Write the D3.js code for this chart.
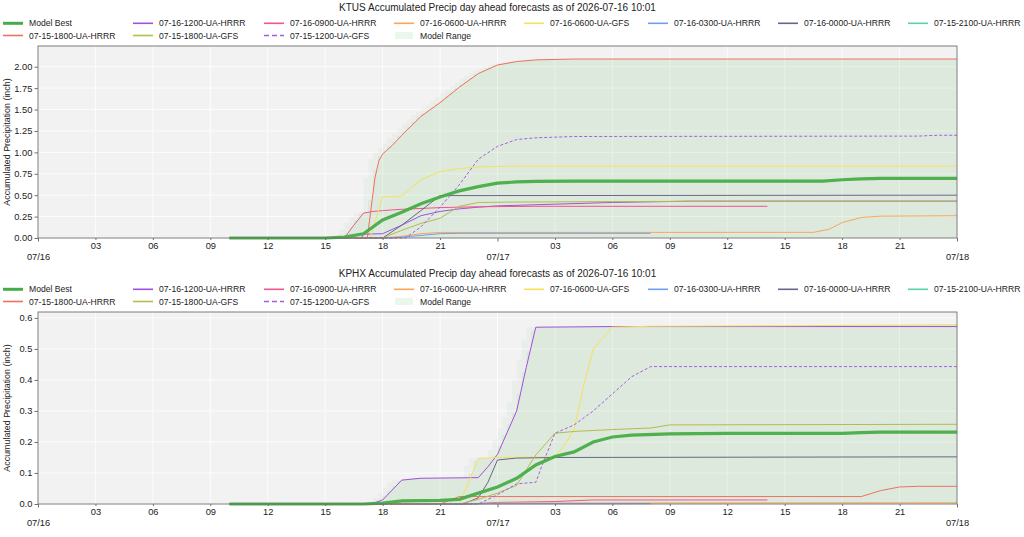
<!DOCTYPE html>
<html>
<head>
<meta charset="utf-8">
<script src="https://cdn.jsdelivr.net/npm/d3@7"></script>
<style>
  body { margin: 0; background: #fff; }
  text { font-family: "Liberation Sans", Arial, Helvetica, sans-serif; fill: #222; }
</style>
</head>
<body>
<div id="content"></div>
<script>
// hours after 2026-07-16 00:00, accumulated inches
const ktusBest = [[10,0],[15,0],[16,0.01],[17,0.05],[18,0.21],[19,0.30],[20,0.40],[21,0.48],[22,0.55],[23,0.60],[24,0.64],[25,0.655],[26,0.662],[28,0.665],[41,0.665],[42,0.68],[43,0.69],[44,0.697],[48,0.697]];
const ktusH1612 = [[12,0],[16.9,0],[17,0.045],[18,0.05],[19,0.15],[20,0.26],[21,0.31],[22,0.34],[23,0.36],[24,0.375],[27,0.395],[30,0.415],[34,0.43],[48,0.43]];
const ktusH1609 = [[10,0],[16,0],[16.5,0.15],[17,0.29],[17.5,0.31],[18,0.32],[19,0.335],[21,0.355],[23,0.365],[26,0.37],[38.1,0.37]];
const ktusH1606 = [[10,0],[18,0],[19,0.02],[20,0.05],[21,0.065],[40.5,0.066],[41.3,0.1],[42,0.18],[43,0.24],[44,0.255],[48,0.26]];
const ktusG1606 = [[10,0],[17.35,0],[18,0.48],[19,0.49],[20,0.68],[21,0.775],[22,0.81],[23,0.83],[25,0.84],[48,0.84]];
const ktusH1603 = [[10,0],[18.5,0],[20,0.03],[21,0.05],[22,0.055],[32,0.055]];
const ktusH1600 = [[10,0],[18,0],[19,0.15],[20,0.32],[21,0.495],[48,0.50]];
const ktusH1521 = [[10,0],[15,0]];
const ktusH1518 = [[10,0],[17.2,0],[17.4,0.35],[17.6,0.7],[17.8,0.9],[18,0.98],[18.5,1.08],[19,1.2],[20,1.42],[21,1.58],[22,1.76],[23,1.92],[24,2.02],[25,2.06],[26,2.08],[28,2.09],[48,2.09]];
const ktusG1518 = [[10,0],[18,0],[19,0.09],[20,0.17],[21,0.23],[21.5,0.30],[22,0.37],[23,0.415],[25,0.42],[30,0.425],[36,0.43],[48,0.43]];
const ktusG1512 = [[10,0],[19.2,0],[20,0.13],[21,0.36],[22,0.62],[23,0.92],[24,1.07],[25,1.15],[26,1.17],[28,1.185],[46,1.19],[47,1.2],[48,1.2]];

const kphxBest = [[10,0],[17,0],[18,0.003],[19,0.01],[21,0.012],[22,0.015],[23,0.035],[24,0.055],[25,0.083],[26,0.126],[27,0.153],[28,0.168],[29,0.20],[30,0.216],[31,0.222],[33,0.226],[36,0.228],[42,0.228],[43,0.23],[44,0.232],[48,0.232]];
const kphxH1612 = [[12,0],[17.4,0],[18,0.013],[19,0.077],[20,0.083],[23,0.085],[23.5,0.12],[24,0.16],[24.5,0.23],[25,0.30],[25.5,0.44],[26,0.57],[30,0.572],[48,0.572]];
const kphxH1609 = [[10,0],[22.5,0],[24,0.005],[27,0.008],[29,0.013],[38.1,0.013]];
const kphxH1606 = [[10,0],[23,0],[24,0.003],[48,0.004]];
const kphxG1606 = [[10,0],[22,0],[22.5,0.07],[23,0.147],[24,0.15],[27,0.152],[27.5,0.19],[28,0.24],[28.5,0.38],[29,0.50],[30,0.57],[32,0.573],[40,0.575],[48,0.578]];
const kphxH1603 = [[10,0],[32,0.001]];
const kphxH1600 = [[10,0],[22.2,0],[23,0.02],[23.5,0.07],[24,0.142],[25,0.148],[27,0.15],[48,0.152]];
const kphxH1521 = [[10,0],[15,0]];
const kphxH1518 = [[10,0],[21,0],[22,0.024],[43,0.024],[44,0.043],[45,0.055],[46,0.057],[48,0.057]];
const kphxG1518 = [[10,0],[22,0],[23,0.015],[24,0.035],[25,0.06],[25.5,0.11],[26,0.158],[27,0.228],[28,0.234],[30,0.24],[32,0.245],[33,0.255],[48,0.257]];
const kphxG1512 = [[10,0],[23,0],[24,0.03],[25,0.065],[26,0.07],[26.3,0.12],[27,0.228],[28,0.255],[29,0.30],[30,0.355],[31,0.41],[32,0.443],[48,0.443]];

const runNames = ['07-16-1200-UA-HRRR','07-16-0900-UA-HRRR','07-16-0600-UA-HRRR','07-16-0600-UA-GFS',
  '07-16-0300-UA-HRRR','07-16-0000-UA-HRRR','07-15-2100-UA-HRRR','07-15-1800-UA-HRRR','07-15-1800-UA-GFS','07-15-1200-UA-GFS'];
const ktusRuns = [ktusH1612, ktusH1609, ktusH1606, ktusG1606, ktusH1603, ktusH1600, ktusH1521, ktusH1518, ktusG1518, ktusG1512];
const kphxRuns = [kphxH1612, kphxH1609, kphxH1606, kphxG1606, kphxH1603, kphxH1600, kphxH1521, kphxH1518, kphxG1518, kphxG1512];
const ktusYTicks = [0, 0.25, 0.5, 0.75, 1, 1.25, 1.5, 1.75, 2];
const kphxYTicks = [0, 0.1, 0.2, 0.3, 0.4, 0.5, 0.6];
const issued = '2026-07-16 10:01';

const runColors = ['#a150dc','#f2558e','#f9a65a','#f5e15c','#6f9ef6','#66668a','#5ccfad','#f0705f','#b3bc4c','#a65ee0'];
const bestColor = '#46ad46';
const t0 = new Date(2026, 6, 16, 0, 0);
const toDate = h => new Date(t0.getTime() + h * 3600e3);

const W = 1024, H = 537;
const svg = d3.select('#content').append('svg').attr('width', W).attr('height', H);
svg.append('rect').attr('width', W).attr('height', H).attr('fill', '#fff');

const margin = { left: 38, right: 957 };
const legendCols = [3, 133, 264, 394, 524, 648, 778, 908];

function drawPanel(station, best, runs, yTicks, yMax, yFmt, offY) {
  const top = 46 + offY, bottom = 238 + offY;
  const g = svg.append('g');

  g.append('text').attr('x', (margin.left + margin.right) / 2).attr('y', offY + 10.6)
    .attr('text-anchor', 'middle').attr('font-size', 10)
    .text(`${station} Accumulated Precip day ahead forecasts as of ${issued}`);

  // legend
  const items = [{ name: 'Model Best', color: bestColor, w: 3 }]
    .concat(runNames.slice(0, 7).map((n, i) => ({ name: n, color: runColors[i], w: 1.6 })))
    .concat(runNames.slice(7).map((n, i) => ({ name: n, color: runColors[7 + i], w: 1.6, dash: i === 2 })))
    .concat([{ name: 'Model Range', patch: true }]);
  items.forEach((it, i) => {
    const col = i < 8 ? i : i - 8;
    const ly = offY + (i < 8 ? 23.3 : 35.5);
    const lx = legendCols[col];
    if (it.patch) {
      g.append('rect').attr('x', lx + 1).attr('y', ly - 3.5).attr('width', 18).attr('height', 7)
        .attr('fill', bestColor).attr('fill-opacity', 0.1);
    } else {
      g.append('line').attr('x1', lx).attr('x2', lx + 20).attr('y1', ly).attr('y2', ly)
        .attr('stroke', it.color).attr('stroke-width', it.w)
        .attr('stroke-dasharray', it.dash ? '5,3' : null);
    }
    g.append('text').attr('x', lx + 26).attr('y', ly + 3).attr('font-size', 8.6).text(it.name);
  });

  const x = d3.scaleTime().domain([toDate(0), toDate(48)]).range([margin.left, margin.right]);
  const y = d3.scaleLinear().domain([0, yMax]).range([bottom, top]);

  g.append('rect').attr('x', margin.left).attr('y', top)
    .attr('width', margin.right - margin.left).attr('height', bottom - top).attr('fill', '#f2f2f2');

  const hourTicks = d3.range(3, 48, 3).filter(h => h !== 24).map(toDate);
  const dayTicks = [0, 24, 48].map(toDate);

  // grid
  const grid = g.append('g').attr('stroke', '#fff').attr('stroke-width', 0.8);
  d3.range(0, 49, 3).forEach(h => grid.append('line')
    .attr('x1', x(toDate(h))).attr('x2', x(toDate(h))).attr('y1', top).attr('y2', bottom));
  yTicks.forEach(v => grid.append('line')
    .attr('x1', margin.left).attr('x2', margin.right).attr('y1', y(v)).attr('y2', y(v)));

  // model range envelope, taken from the runs' own curves
  const curves = runs.concat([best]);
  const valueAt = (pts, h) => {
    if (h < pts[0][0] || h > pts[pts.length - 1][0]) return null;
    return d3.scaleLinear().domain(pts.map(p => p[0])).range(pts.map(p => p[1]))(h);
  };
  const envAt = h => d3.max(curves, c => valueAt(c, Math.min(h, 48))) || 0;
  const steps = d3.range(10, 48.01, 0.25);
  const area = d3.area().curve(d3.curveStepAfter)
    .x(d => x(toDate(d[0]))).y0(y(0)).y1(d => y(d[1]));
  [[0.6, 0.045], [0.2, 0.075]].forEach(([lead, op]) => {
    g.append('path').datum(steps.map(h => [h, envAt(h + lead)]))
      .attr('d', area).attr('fill', bestColor).attr('fill-opacity', op);
  });

  // runs
  const line = d3.line().x(d => x(toDate(d[0]))).y(d => y(d[1]));
  runs.forEach((pts, i) => {
    g.append('path').datum(pts).attr('d', line).attr('fill', 'none')
      .attr('stroke', runColors[i]).attr('stroke-width', 1)
      .attr('stroke-dasharray', i === 9 ? '3,2' : null);
  });
  g.append('path').datum(best).attr('d', line).attr('fill', 'none')
    .attr('stroke', bestColor).attr('stroke-width', 3.2).attr('stroke-opacity', 0.95);

  // frame
  g.append('rect').attr('x', margin.left).attr('y', top)
    .attr('width', margin.right - margin.left).attr('height', bottom - top)
    .attr('fill', 'none').attr('stroke', '#707070').attr('stroke-width', 0.9);

  // axes
  const yAxis = g.append('g').attr('transform', `translate(${margin.left},0)`)
    .call(d3.axisLeft(y).tickValues(yTicks).tickFormat(d3.format(yFmt)).tickSize(3.5).tickPadding(2.2));
  const xMinor = g.append('g').attr('transform', `translate(0,${bottom})`)
    .call(d3.axisBottom(x).tickValues(hourTicks).tickFormat(d3.timeFormat('%H')).tickSize(2).tickPadding(2.3));
  const xMajor = g.append('g').attr('transform', `translate(0,${bottom})`)
    .call(d3.axisBottom(x).tickValues(dayTicks).tickFormat(d3.timeFormat('%m/%d')).tickSize(3.5).tickPadding(11.5));
  [yAxis, xMinor, xMajor].forEach(a => {
    a.select('.domain').remove();
    a.selectAll('line').attr('stroke', '#707070');
    a.selectAll('text').attr('font-size', 9.3).attr('fill', '#222')
      .attr('font-family', '"Liberation Sans", Arial, sans-serif');
  });

  g.append('text').attr('transform', `translate(9.8,${(top + bottom) / 2}) rotate(-90)`)
    .attr('text-anchor', 'middle').attr('font-size', 8.9).text('Accumulated Precipitation (inch)');
}

drawPanel('KTUS', ktusBest, ktusRuns, ktusYTicks, 2.242, '.2f', 0);
drawPanel('KPHX', kphxBest, kphxRuns, kphxYTicks, 0.619, '.1f', 266);
</script>
</body>
</html>
